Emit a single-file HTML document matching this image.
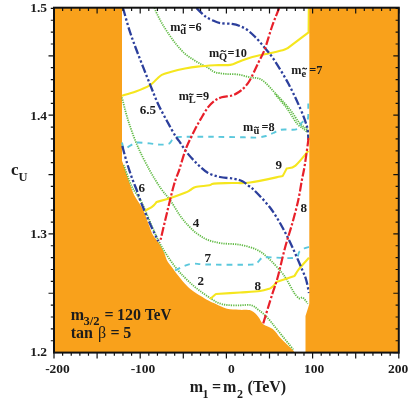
<!DOCTYPE html>
<html><head><meta charset="utf-8">
<style>
html,body{margin:0;padding:0;background:#fff;}
body{width:415px;height:404px;overflow:hidden;font-family:"Liberation Serif",serif;}
svg{display:block}
text{font-family:"Liberation Serif",serif;font-weight:bold;fill:#1c1c1c}
</style></head><body>
<svg style="will-change:transform" width="415" height="404" viewBox="0 0 415 404">
<rect width="415" height="404" fill="#fff"/>
<path fill="#f9a11b" d="M54.0,7.7 L122,7.7 L122,161.6 L122.0,161.6 C122.1,161.8 121.4,159.1 122.8,163.0 C124.2,166.9 128.4,179.6 130.3,185.0 C132.2,190.4 132.9,192.4 134.4,195.4 C135.9,198.4 137.8,200.6 139.3,203.2 C140.8,205.8 142.3,208.2 143.6,211.0 C144.9,213.8 145.8,216.7 147.0,219.7 C148.2,222.7 149.5,226.6 150.5,229.2 C151.5,231.8 151.8,233.1 153.1,235.3 C154.4,237.5 156.9,240.0 158.3,242.2 C159.8,244.4 160.7,246.3 161.8,248.3 C162.9,250.3 163.8,251.9 164.7,254.0 C165.6,256.1 166.0,258.7 167.3,261.0 C168.6,263.3 170.8,265.6 172.5,267.9 C174.2,270.2 175.7,272.3 177.7,274.9 C179.7,277.5 182.4,281.0 184.7,283.5 C187.0,286.0 189.0,287.9 191.6,290.0 C194.2,292.1 197.4,294.0 200.3,295.8 C203.2,297.6 206.3,299.4 208.9,300.8 C211.5,302.2 212.9,302.7 215.9,304.0 C218.9,305.3 223.2,307.8 227.0,308.8 C230.8,309.8 235.0,309.5 239.0,309.8 C243.0,310.1 247.8,309.4 251.0,310.6 C254.2,311.8 256.4,314.7 258.4,317.0 C260.4,319.3 260.8,322.2 263.2,324.2 C265.6,326.2 270.0,326.8 272.8,329.0 C275.6,331.2 277.6,334.9 280.0,337.5 C282.4,340.1 285.0,342.4 287.3,344.7 C289.6,346.9 292.7,349.9 293.8,351.0 L294,352.6 L54.0,352.6 Z"/>
<g fill="none" stroke-linejoin="round">
<g stroke="#62bb46" stroke-width="1.8" stroke-dasharray="1.25 1.05">
<path d="M154.3,8.0 C155.3,10.1 158.2,16.6 160.4,20.6 C162.6,24.6 164.7,28.0 167.3,31.9 C169.9,35.8 173.1,40.4 176.0,44.0 C178.9,47.6 181.8,50.9 184.7,53.5 C187.6,56.1 190.4,57.7 193.3,59.6 C196.2,61.5 199.4,63.3 202.0,64.8 C204.6,66.2 206.8,67.1 208.9,68.3 C211.0,69.5 212.0,71.2 214.7,72.1 C217.4,73.0 221.2,73.5 225.0,73.9 C228.8,74.3 233.0,73.8 237.2,74.4 C241.4,75.0 245.9,76.4 250.0,77.3 C254.1,78.2 257.7,77.2 262.0,80.0 C266.3,82.8 271.3,89.1 276.0,94.0 C280.7,98.9 286.1,104.7 290.0,109.5 C293.9,114.3 296.5,119.6 299.5,123.0 C302.5,126.4 306.6,128.8 308.0,130.0"/>
<path d="M275.0,94.0 C275.8,95.0 278.1,97.8 280.0,100.0 C281.9,102.2 284.1,104.6 286.2,107.4 C288.3,110.2 290.5,113.9 292.4,116.7 C294.3,119.5 295.5,122.0 297.4,124.1 C299.3,126.1 302.0,127.7 303.6,129.0 C305.2,130.3 306.7,131.6 307.3,132.1"/>
<path d="M122.0,97.5 C123.0,101.2 125.4,111.9 128.0,120.0 C130.6,128.1 133.9,137.6 137.5,146.0 C141.1,154.4 145.8,163.2 149.7,170.3 C153.6,177.4 157.4,183.4 160.9,188.5 C164.4,193.6 167.3,196.1 170.5,200.6 C173.7,205.1 177.0,211.4 180.0,215.6 C183.0,219.8 185.8,223.0 188.7,226.0 C191.6,229.0 194.1,231.5 197.3,233.8 C200.5,236.1 203.6,238.3 207.7,239.9 C211.8,241.5 216.4,242.5 221.6,243.3 C226.8,244.1 233.3,243.6 239.0,244.6 C244.7,245.6 251.2,247.2 256.0,249.4 C260.8,251.6 263.8,254.0 268.0,257.8 C272.2,261.6 278.2,268.4 281.5,272.3 C284.8,276.2 285.7,278.1 287.5,281.0 C289.3,283.9 291.3,287.9 292.5,290.0 C293.7,292.1 293.7,292.4 294.8,293.8 C295.9,295.2 297.9,297.8 299.3,298.4 C300.7,299.0 301.6,296.8 303.0,297.7 C304.4,298.6 307.0,302.7 307.8,303.7"/>
<path d="M123.8,165.0 C125.1,168.6 128.8,180.3 131.8,186.5 C134.8,192.7 138.1,195.3 141.6,202.3 C145.1,209.3 149.8,221.6 152.8,228.3 C155.8,235.1 157.1,238.2 159.5,242.8 C161.9,247.4 164.6,251.6 167.3,255.8 C170.1,260.0 173.1,264.3 176.0,267.9 C178.9,271.5 181.8,274.6 184.7,277.5 C187.6,280.4 190.4,283.1 193.3,285.6 C196.2,288.1 199.1,290.3 202.0,292.4 C204.9,294.5 208.1,296.7 210.7,298.4 C213.3,300.1 214.9,301.5 217.6,302.6 C220.3,303.7 223.3,304.6 227.0,305.0 C230.7,305.4 236.0,305.3 240.0,305.3 C244.0,305.3 247.9,304.4 251.0,305.2 C254.1,305.9 255.8,307.8 258.4,309.8 C261.0,311.8 263.6,313.6 266.8,317.0 C270.0,320.4 273.2,324.7 277.7,330.2 C282.1,335.7 290.9,346.5 293.5,349.8"/>
</g>
<g stroke="#5bc8dc" stroke-width="1.9" stroke-dasharray="5.6 5">
<path d="M122.0,142.5 C122.3,143.5 122.9,147.7 123.7,148.6 C124.5,149.5 125.7,148.4 127.1,147.7 C128.5,147.0 130.6,145.2 132.3,144.3 C134.0,143.4 134.6,142.7 137.5,142.5 C140.4,142.3 145.9,143.1 149.7,143.4 C153.4,143.8 156.8,144.5 160.0,144.6 C163.2,144.7 166.7,144.7 168.7,143.9 C170.7,143.1 171.0,141.0 172.2,139.9 C173.4,138.8 173.6,137.8 175.7,137.3 C177.8,136.8 178.6,136.9 185.0,136.8 C191.4,136.7 204.2,136.7 214.0,136.8 C223.8,136.9 237.0,137.2 244.0,137.3 C251.0,137.4 252.3,137.8 256.0,137.6 C259.7,137.4 263.1,136.8 266.0,136.0 C268.9,135.2 270.8,134.1 273.3,133.0 C275.8,131.9 277.4,130.3 281.0,129.7 C284.6,129.1 291.9,130.0 295.0,129.6 C298.1,129.2 298.5,128.5 299.5,127.5 C300.5,126.5 300.2,124.6 301.0,123.5 C301.8,122.4 302.9,121.4 304.0,120.8 C305.1,120.2 306.8,121.0 307.5,120.0 C308.2,119.0 308.2,115.8 308.3,115.0 C308.3,113.1 308.3,105.4 308.3,103.5"/>
<path d="M175.1,270.5 C176.7,269.7 181.7,266.9 184.7,265.8 C187.7,264.7 189.6,263.8 193.3,263.6 C197.1,263.4 197.6,264.3 207.2,264.5 C216.8,264.7 242.7,264.9 251.0,264.6 C259.3,264.3 255.4,263.8 257.2,262.7 C259.0,261.6 260.2,258.7 262.0,257.8 C263.8,256.9 262.6,257.3 268.0,257.3 C273.4,257.3 289.3,258.7 294.5,257.8 C299.7,256.9 297.7,253.4 299.3,251.8 C300.9,250.2 302.4,249.3 304.0,248.5 C305.6,247.7 308.2,247.2 309.0,247.0"/>
</g>
<g stroke="#f5e61e" stroke-width="2.1">
<path d="M122.0,95.7 C124.3,95.0 131.2,93.1 135.8,91.4 C140.4,89.7 146.2,87.3 149.7,85.3 C153.2,83.3 154.6,81.0 156.6,79.3 C158.6,77.6 159.5,76.1 161.8,74.9 C164.1,73.7 166.6,73.1 170.5,72.0 C174.4,70.9 180.5,69.4 185.0,68.5 C189.5,67.6 192.4,67.1 197.3,66.6 C202.2,66.0 209.2,65.5 214.7,65.2 C220.2,64.9 226.3,65.5 230.3,64.9 C234.3,64.3 235.6,62.9 238.9,61.7 C242.2,60.5 244.9,59.1 250.0,57.7 C255.1,56.3 263.9,54.5 269.3,53.3 C274.8,52.1 279.7,51.1 282.7,50.3 C285.7,49.5 286.6,48.6 287.4,48.3 C290.9,45.6 305.1,35.0 308.6,32.4 C308.6,28.3 308.8,12.1 308.8,8.0"/>
<path d="M144.5,211.0 C145.8,210.3 150.3,208.2 152.3,206.7 C154.3,205.2 155.9,202.8 156.6,202.0 C158.9,201.3 165.8,199.5 170.5,198.0 C175.2,196.5 181.7,194.1 185.0,192.8 C188.3,191.5 188.6,191.0 190.4,190.0 C192.2,189.0 192.4,187.8 195.6,187.0 C198.8,186.2 206.5,185.9 209.5,185.3 C212.5,184.7 210.1,184.0 213.8,183.6 C217.6,183.2 226.0,183.2 232.0,183.0 C238.0,182.8 241.6,183.7 250.0,182.5 C258.4,181.3 277.2,177.1 282.7,176.0 C283.4,174.8 286.0,169.8 286.6,168.6 C288.1,168.1 291.9,168.6 295.5,165.6 C299.1,162.6 306.2,153.3 308.4,150.8"/>
<path d="M210.0,299.0 C211.0,298.2 215.0,294.8 216.0,294.0 C220.0,293.8 232.7,293.0 240.0,292.5 C247.3,292.0 255.0,291.7 260.0,291.0 C265.0,290.3 268.3,288.9 270.0,288.5 C270.7,288.0 272.9,286.6 274.0,285.5 C275.1,284.4 276.0,282.6 276.4,282.0 C279.4,281.0 291.5,277.0 294.5,276.0 C295.3,274.8 296.9,271.7 299.3,268.7 C301.7,265.7 307.4,259.6 309.0,257.8"/>
</g>
<g stroke="#2c3f9c" stroke-width="2.3" stroke-dasharray="8.5 2.3 2.3 2.3 2.3 2.3">
<path d="M123.0,8.0 C124.2,12.0 127.4,24.2 130.0,32.0 C132.6,39.8 135.1,46.4 138.4,55.0 C141.7,63.6 146.4,75.4 149.7,83.6 C153.0,91.8 155.3,98.0 158.3,104.4 C161.3,110.8 164.6,116.7 167.5,122.0 C170.4,127.3 173.6,133.1 175.7,136.5 C177.8,139.9 178.1,139.6 180.0,142.3 C181.9,145.0 184.1,149.1 187.0,152.7 C189.9,156.3 193.9,160.7 197.3,164.0 C200.8,167.3 203.9,170.5 207.7,172.7 C211.5,174.9 215.6,176.0 219.9,177.0 C224.2,178.0 229.9,178.0 233.7,178.7 C237.4,179.4 239.9,180.1 242.4,181.3 C244.9,182.5 246.6,184.2 248.5,185.7 C250.4,187.1 250.4,186.4 254.0,190.0 C257.6,193.6 265.2,201.2 270.0,207.5 C274.8,213.8 278.8,220.8 282.5,227.5 C286.2,234.2 289.2,240.4 292.5,247.5 C295.8,254.6 300.0,264.6 302.3,270.0 C304.6,275.4 305.1,276.2 306.2,280.0 C307.3,283.8 308.5,290.8 309.0,293.0"/>
<path d="M122.3,146.0 C123.1,148.9 125.4,157.8 127.1,163.3 C128.8,168.8 130.7,174.6 132.3,179.0 C133.9,183.4 135.2,186.1 136.7,190.0 C138.1,193.9 138.8,196.8 141.0,202.3 C143.2,207.8 146.8,216.6 149.7,223.1 C152.6,229.6 156.9,238.3 158.3,241.3"/>
<path d="M196.5,8.0 C197.4,8.9 200.5,12.1 202.2,13.7 C203.9,15.2 204.9,16.2 206.6,17.3 C208.3,18.4 210.0,19.2 212.3,20.2 C214.6,21.2 217.0,22.5 220.3,23.1 C223.6,23.7 228.7,23.4 231.9,23.9 C235.2,24.4 237.3,25.0 239.8,26.0 C242.3,27.0 244.6,28.1 247.0,29.8 C249.4,31.5 251.5,33.3 254.2,36.0 C256.9,38.7 260.0,42.0 263.3,46.0 C266.6,50.0 270.0,53.7 274.2,60.0 C278.4,66.3 284.2,75.8 288.6,84.0 C293.0,92.2 297.5,102.2 300.5,109.0 C303.5,115.8 305.3,121.2 306.5,125.0 C307.7,128.8 307.6,129.5 307.9,132.0 C308.2,134.5 308.3,138.7 308.4,140.0"/>
</g>
<g stroke="#e8202a" stroke-width="2.2" stroke-dasharray="8.7 2.1 2.3 2.1">
<path d="M279.2,8.0 C278.0,11.1 274.4,19.6 272.0,26.5 C269.6,33.4 267.0,43.3 264.7,49.4 C262.4,55.5 260.6,57.9 258.2,63.0 C255.8,68.1 252.3,75.9 250.0,80.0 C247.7,84.1 245.9,85.7 244.1,87.7 C242.2,89.7 240.9,90.7 238.9,92.0 C236.9,93.3 234.9,94.6 232.0,95.5 C229.1,96.4 224.5,96.4 221.6,97.3 C218.7,98.2 217.0,99.0 214.7,100.7 C212.4,102.4 210.0,104.7 207.7,107.7 C205.4,110.7 203.0,115.2 200.8,118.9 C198.6,122.6 196.7,126.1 194.7,130.0 C192.7,133.9 190.3,138.8 188.7,142.3 C187.1,145.8 186.6,146.5 185.0,151.2 C183.4,155.9 180.9,164.7 179.1,170.3 C177.2,175.9 175.9,177.9 173.9,185.0 C171.9,192.1 169.3,203.2 167.0,212.7 C164.7,222.2 161.2,237.3 160.0,242.2"/>
<path d="M308.6,138.0 C308.0,142.5 305.9,158.1 304.8,165.0 C303.7,171.9 303.1,173.7 302.0,179.5 C300.9,185.3 299.9,192.6 298.3,200.0 C296.7,207.4 294.3,216.0 292.1,224.0 C289.9,232.0 287.3,239.2 284.9,248.2 C282.5,257.2 279.6,270.4 277.5,278.0 C275.4,285.6 274.7,286.4 272.3,294.0 C269.9,301.6 264.7,318.6 263.2,323.5"/>
</g>
</g>
<path fill="#f9a11b" d="M309.3,7.7 L398.8,7.7 L398.8,352.6 L305.5,352.6 L305.5,316 L309.3,304 Z"/>
<path d="M54.00,352.60 v5.8 M54.00,7.70 v5.8 M62.62,352.60 v3.2 M62.62,7.70 v3.2 M71.24,352.60 v3.2 M71.24,7.70 v3.2 M79.86,352.60 v3.2 M79.86,7.70 v3.2 M88.48,352.60 v3.2 M88.48,7.70 v3.2 M97.10,352.60 v5.8 M97.10,7.70 v5.8 M105.72,352.60 v3.2 M105.72,7.70 v3.2 M114.34,352.60 v3.2 M114.34,7.70 v3.2 M122.96,352.60 v3.2 M122.96,7.70 v3.2 M131.58,352.60 v3.2 M131.58,7.70 v3.2 M140.20,352.60 v5.8 M140.20,7.70 v5.8 M148.82,352.60 v3.2 M148.82,7.70 v3.2 M157.44,352.60 v3.2 M157.44,7.70 v3.2 M166.06,352.60 v3.2 M166.06,7.70 v3.2 M174.68,352.60 v3.2 M174.68,7.70 v3.2 M183.30,352.60 v5.8 M183.30,7.70 v5.8 M191.92,352.60 v3.2 M191.92,7.70 v3.2 M200.54,352.60 v3.2 M200.54,7.70 v3.2 M209.16,352.60 v3.2 M209.16,7.70 v3.2 M217.78,352.60 v3.2 M217.78,7.70 v3.2 M226.40,352.60 v5.8 M226.40,7.70 v5.8 M235.02,352.60 v3.2 M235.02,7.70 v3.2 M243.64,352.60 v3.2 M243.64,7.70 v3.2 M252.26,352.60 v3.2 M252.26,7.70 v3.2 M260.88,352.60 v3.2 M260.88,7.70 v3.2 M269.50,352.60 v5.8 M269.50,7.70 v5.8 M278.12,352.60 v3.2 M278.12,7.70 v3.2 M286.74,352.60 v3.2 M286.74,7.70 v3.2 M295.36,352.60 v3.2 M295.36,7.70 v3.2 M303.98,352.60 v3.2 M303.98,7.70 v3.2 M312.60,352.60 v5.8 M312.60,7.70 v5.8 M321.22,352.60 v3.2 M321.22,7.70 v3.2 M329.84,352.60 v3.2 M329.84,7.70 v3.2 M338.46,352.60 v3.2 M338.46,7.70 v3.2 M347.08,352.60 v3.2 M347.08,7.70 v3.2 M355.70,352.60 v5.8 M355.70,7.70 v5.8 M364.32,352.60 v3.2 M364.32,7.70 v3.2 M372.94,352.60 v3.2 M372.94,7.70 v3.2 M381.56,352.60 v3.2 M381.56,7.70 v3.2 M390.18,352.60 v3.2 M390.18,7.70 v3.2 M398.80,352.60 v5.8 M398.80,7.70 v5.8 M398.80,352.60 h-5.5 M54.00,340.73 h-3.2 M398.80,340.73 h-3.2 M54.00,328.86 h-3.2 M398.80,328.86 h-3.2 M54.00,316.99 h-3.2 M398.80,316.99 h-3.2 M54.00,305.12 h-3.2 M398.80,305.12 h-3.2 M54.00,293.25 h-5.5 M398.80,293.25 h-5.5 M54.00,281.38 h-3.2 M398.80,281.38 h-3.2 M54.00,269.51 h-3.2 M398.80,269.51 h-3.2 M54.00,257.64 h-3.2 M398.80,257.64 h-3.2 M54.00,245.77 h-3.2 M398.80,245.77 h-3.2 M54.00,233.90 h-5.5 M398.80,233.90 h-5.5 M54.00,222.03 h-3.2 M398.80,222.03 h-3.2 M54.00,210.16 h-3.2 M398.80,210.16 h-3.2 M54.00,198.29 h-3.2 M398.80,198.29 h-3.2 M54.00,186.42 h-3.2 M398.80,186.42 h-3.2 M54.00,174.55 h-5.5 M398.80,174.55 h-5.5 M54.00,162.68 h-3.2 M398.80,162.68 h-3.2 M54.00,150.81 h-3.2 M398.80,150.81 h-3.2 M54.00,138.94 h-3.2 M398.80,138.94 h-3.2 M54.00,127.07 h-3.2 M398.80,127.07 h-3.2 M54.00,115.20 h-5.5 M398.80,115.20 h-5.5 M54.00,103.33 h-3.2 M398.80,103.33 h-3.2 M54.00,91.46 h-3.2 M398.80,91.46 h-3.2 M54.00,79.59 h-3.2 M398.80,79.59 h-3.2 M54.00,67.72 h-3.2 M398.80,67.72 h-3.2 M54.00,55.85 h-5.5 M398.80,55.85 h-5.5 M54.00,43.98 h-3.2 M398.80,43.98 h-3.2 M54.00,32.11 h-3.2 M398.80,32.11 h-3.2 M54.00,20.24 h-3.2 M398.80,20.24 h-3.2 M54.00,8.37 h-3.2 M398.80,8.37 h-3.2 " stroke="#111" stroke-width="1.2" fill="none"/>
<rect x="54.0" y="7.7" width="344.8" height="344.9" fill="none" stroke="#111" stroke-width="2"/>
<g font-size="13.5">
<text x="47" y="12" text-anchor="end">1.5</text>
<text x="47" y="119.5" text-anchor="end">1.4</text>
<text x="47" y="238" text-anchor="end">1.3</text>
<text x="47" y="356" text-anchor="end">1.2</text>
<text x="57.5" y="372.6" text-anchor="middle">-200</text>
<text x="143" y="372.6" text-anchor="middle">-100</text>
<text x="231.4" y="372.6" text-anchor="middle">0</text>
<text x="314" y="372.6" text-anchor="middle">100</text>
<text x="398" y="372.6" text-anchor="middle">200</text>
</g><g font-size="13.1">
<text x="139.8" y="113.8">6.5</text>
<text x="138.5" y="192">6</text>
<text x="192.7" y="226.9">4</text>
<text x="204.5" y="262">7</text>
<text x="197.5" y="285">2</text>
<text x="254.5" y="289.5">8</text>
<text x="275.5" y="169">9</text>
<text x="300.5" y="211.5">8</text>
</g>
<text x="11" y="175" font-size="17">c<tspan font-size="12.5" dy="5.7">U</tspan></text>
<g font-size="16"><text x="189.8" y="392.3">m</text><text x="202.4" y="398.1" font-size="12">1</text><text x="212" y="392.3">=</text><text x="223.1" y="392.3">m</text><text x="237.1" y="398.1" font-size="12">2</text><text x="247.6" y="392.3">(TeV)</text></g>
<g font-size="16"><text x="70.7" y="319.7">m</text><text x="83.4" y="324.6" font-size="12.6">3/2</text><text x="104.5" y="319.7">=</text><text x="117.1" y="319.7">120</text><text x="145" y="319.7" textLength="26.3" lengthAdjust="spacingAndGlyphs">TeV</text>
<text x="70.7" y="338.2">tan</text><text x="98" y="338.2" style="font-weight:normal">β</text><text x="110.4" y="338.2">=</text><text x="123.3" y="338.2">5</text></g>
<g font-size="12.3">
<text x="170.3" y="30.9">m</text><text x="180.2" y="33.6" font-size="10.5">d</text><text x="188.6" y="30.9">=6</text>
<text x="209.0" y="57.0">m</text><text x="219.1" y="59.9" font-size="10.5">Q</text><text x="227.5" y="57.0">=10</text>
<text x="178.7" y="100.2">m</text><text x="188.7" y="103.1" font-size="10.5">L</text><text x="196.0" y="100.2">=9</text>
<text x="291.3" y="73.8">m</text><text x="301.5" y="76.5" font-size="10.5">e</text><text x="309.3" y="73.8">=7</text>
<text x="243.1" y="131.2">m</text><text x="253.4" y="134.1" font-size="10.5">u</text><text x="261.4" y="131.2">=8</text>
</g>
<g fill="none" stroke="#1c1c1c" stroke-width="1.1">
<path d="M181.30,25.60 c0.77,-1.3 1.54,-1.3 2.20,-0.6 s1.43,0.7 2.20,-0.6"/><path d="M220.70,51.70 c0.94,-1.3 1.89,-1.3 2.70,-0.6 s1.76,0.7 2.70,-0.6"/><path d="M189.20,94.90 c0.73,-1.3 1.47,-1.3 2.10,-0.6 s1.37,0.7 2.10,-0.6"/><path d="M302.40,69.20 c0.77,-1.3 1.54,-1.3 2.20,-0.6 s1.43,0.7 2.20,-0.6"/><path d="M254.30,128.00 c0.77,-1.3 1.54,-1.3 2.20,-0.6 s1.43,0.7 2.20,-0.6"/>
</g>

</svg>
</body></html>
